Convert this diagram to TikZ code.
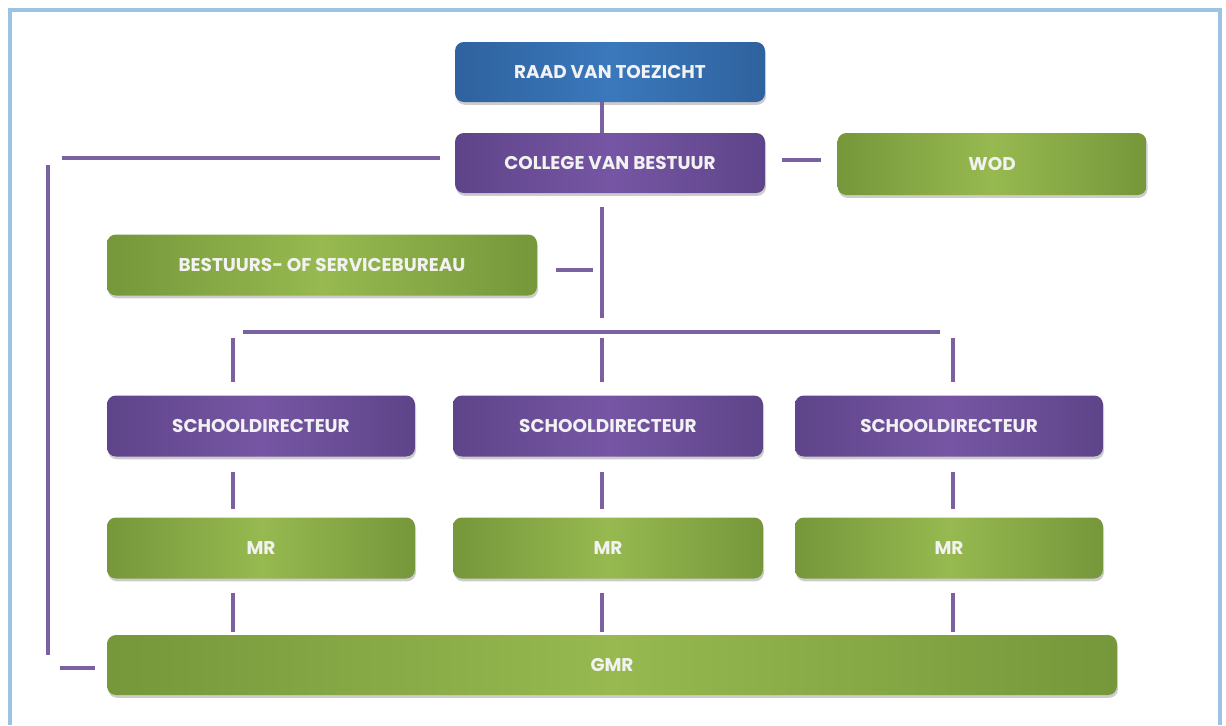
\documentclass[tikz,border=0pt]{standalone}
\usepackage{fontspec}
\setmainfont{Poppins}
\usetikzlibrary{shadows,calc}

\definecolor{rvtEdge}{HTML}{2F629E}
\definecolor{rvtMid}{HTML}{3A78BC}
\definecolor{cvbEdge}{HTML}{5E4489}
\definecolor{cvbMid}{HTML}{7656A4}
\definecolor{advEdge}{HTML}{76973A}
\definecolor{advMid}{HTML}{97B950}
\definecolor{linkCol}{HTML}{7A62A2}
\definecolor{frameCol}{HTML}{9DC3E2}

\begin{document}
\begin{tikzpicture}[
  x=0.02cm, y=-0.02cm,
  every node/.style={font=\bfseries\fontsize{10.5}{12}\selectfont, text=white!90!gray},
  box/.style={rounded corners=5pt, minimum height=1.2cm, inner sep=0pt,
    drop shadow={shadow xshift=0.6pt, shadow yshift=-1.6pt, opacity=0.4}},
  blue box/.style={box, left color=rvtEdge, right color=rvtEdge, middle color=rvtMid},
  purple box/.style={box, left color=cvbEdge, right color=cvbEdge, middle color=cvbMid},
  green box/.style={box, left color=advEdge, right color=advEdge, middle color=advMid},
  link/.style={draw=linkCol, line width=2.1pt},
  frame/.style={draw=frameCol, line width=2.6pt}
]
\useasboundingbox (0,0) rectangle (1226,725);

% Outer frame
\draw[frame] (10,725) -- (10,10) -- (1220,10) -- (1220,725);

% Board and supervision
\node[blue box, minimum width=6.2cm] (rvt) at (610,72) {RAAD VAN TOEZICHT};
\node[purple box, minimum width=6.2cm] (cvb) at (610,163) {COLLEGE VAN BESTUUR};
\node[green box, minimum width=6.18cm, minimum height=1.24cm] (wod) at (992,164) {WOD};
\node[green box, minimum width=8.6cm, minimum height=1.22cm] (bureau) at (322,265) {BESTUURS- OF SERVICEBUREAU};

% Schools
\node[purple box, minimum width=6.16cm, minimum height=1.22cm] (sd1) at (261,426) {SCHOOLDIRECTEUR};
\node[purple box, minimum width=6.2cm, minimum height=1.22cm] (sd2) at (608,426) {SCHOOLDIRECTEUR};
\node[purple box, minimum width=6.16cm, minimum height=1.22cm] (sd3) at (949,426) {SCHOOLDIRECTEUR};

\node[green box, minimum width=6.16cm, minimum height=1.22cm] (mr1) at (261,548) {MR};
\node[green box, minimum width=6.2cm, minimum height=1.22cm] (mr2) at (608,548) {MR};
\node[green box, minimum width=6.16cm, minimum height=1.22cm] (mr3) at (949,548) {MR};

\node[green box, minimum width=20.2cm] (gmr) at (612,665) {GMR};

% Connector columns and free ends
\coordinate (spine) at (602,0);
\coordinate (colA) at (233,0);
\coordinate (colC) at (953,0);
\coordinate (barL) at (243,332);
\coordinate (barR) at (940,332);

\draw[link] (rvt.south -| spine) -- (cvb.north -| spine);
\draw[link] ($(cvb.west |- 0,158)+(-15,0)$) -- (62,158);
\draw[link] (48,165) -- (48,655);
\draw[link] (60,668) -- ($(gmr.west |- 0,668)+(-12,0)$);
\draw[link] ($(cvb.east |- 0,160)+(17,0)$) -- ($(wod.west |- 0,160)+(-16,0)$);
\draw[link] ($(cvb.south -| spine)+(0,14)$) -- (602,318);
\draw[link] ($(bureau.east |- 0,270)+(19,0)$) -- (593,270);
\draw[link] (barL) -- (barR);

% Links to the schools
\foreach \col/\sd/\mr in {colA/sd1/mr1, spine/sd2/mr2, colC/sd3/mr3}{
  \draw[link] (0,338 -| \col) -- ($(\sd.north -| \col)+(0,-13)$);
  \draw[link] ($(\sd.south -| \col)+(0,15)$) -- ($(\mr.north -| \col)+(0,-8)$);
  \draw[link] ($(\mr.south -| \col)+(0,14)$) -- ($(gmr.north -| \col)+(0,-3)$);
}

\end{tikzpicture}
\end{document}
